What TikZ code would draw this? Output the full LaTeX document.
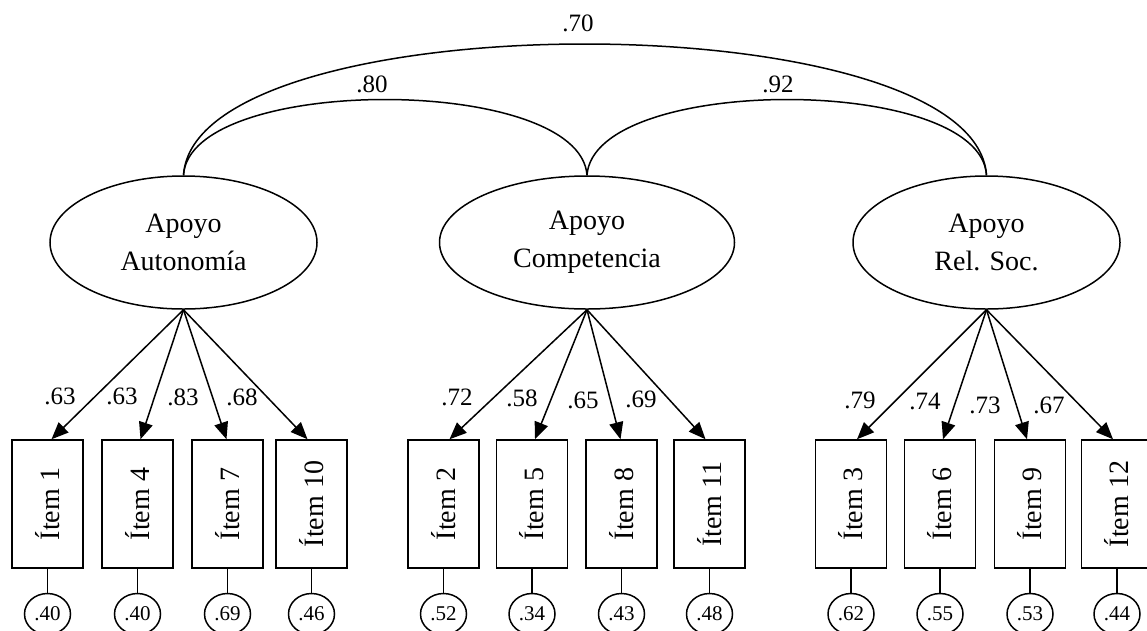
\documentclass[tikz,border=0pt]{standalone}
\usepackage{fontspec}
\setmainfont{Liberation Serif}
\usetikzlibrary{shapes.geometric,arrows.meta}
\begin{document}
\begin{tikzpicture}[x=1pt,y=-1pt,
  line width=1.5pt,
  factor/.style={draw,ellipse,inner sep=0pt,minimum height=133pt,align=center,font=\fontsize{28}{38}\selectfont},
  itembox/.style={draw,rectangle,minimum width=71pt,minimum height=128pt,inner sep=0pt,font=\fontsize{28}{34}\selectfont},
  err/.style={draw,ellipse,minimum width=46pt,minimum height=41pt,inner sep=0pt,font=\fontsize{21}{24}\selectfont},
  load/.style={-{Triangle[length=17pt,width=14pt]}},
  lab/.style={font=\fontsize{25}{30}\selectfont,inner sep=0pt},
]
\useasboundingbox (0,0) rectangle (1147,630);

% factors
\node[factor,minimum width=267pt] (A) at (183.5,242.5) {Apoyo\\Autonomía};
\node[factor,minimum width=295pt] (C) at (587,242.5) {Apoyo\\Competencia};
\node[factor,minimum width=267pt] (R) at (986.5,242.5) {Apoyo\\Rel. Soc.};

% correlations
\draw (A.north) .. controls +(6,-101) and +(-7,-101) .. (C.north);
\draw (C.north) .. controls +(7,-101) and +(-6,-101) .. (R.north);
\draw (A.north) .. controls +(11,-175) and +(-12,-175) .. (R.north);
\node[lab] (r1) at (578,23) {.70};
\node[lab] (r2) at (372,84) {.80};
\node[lab] (r3) at (778,84) {.92};

% items
\foreach \n/\x/\t in {1/47.5/1,4/137.5/4,7/227.5/7,10/311.5/10,
                      2/443.5/2,5/532/5,8/621.5/8,11/709.5/11,
                      3/851/3,6/940/6,9/1030/9,12/1117/12}{
  \node[itembox] (I\n) at (\x,504) {\rotatebox{90}{Ítem \t}};
}

% errors
\foreach \n/\v in {1/.40,4/.40,7/.69,10/.46,2/.52,5/.34,8/.43,11/.48,3/.62,6/.55,9/.53,12/.44}{
  \node[err,anchor=north] (E\n) at ([yshift=-24pt]I\n.south) {\v};
  \draw (I\n.south) -- (E\n.north);
}

% loadings
\draw[load] (A.south) -- ([xshift=4pt]I1.north);
\draw[load] (A.south) -- ([xshift=3pt]I4.north);
\draw[load] (A.south) -- ([xshift=-1pt]I7.north);
\draw[load] (A.south) -- ([xshift=-4pt]I10.north);
\draw[load] (C.south) -- ([xshift=6pt]I2.north);
\draw[load] (C.south) -- ([xshift=3pt]I5.north);
\draw[load] (C.south) -- ([xshift=-1pt]I8.north);
\draw[load] (C.south) -- ([xshift=-4pt]I11.north);
\draw[load] (R.south) -- ([xshift=6pt]I3.north);
\draw[load] (R.south) -- ([xshift=3pt]I6.north);
\draw[load] (R.south) -- ([xshift=-3pt]I9.north);
\draw[load] (R.south) -- ([xshift=-4pt]I12.north);

\node[lab] (l1) at (60,396) {.63};
\node[lab] (l4) at (122,396) {.63};
\node[lab] (l7) at (183,397) {.83};
\node[lab] (l10) at (242,397) {.68};
\node[lab] (l2) at (457,397) {.72};
\node[lab] (l5) at (522,398) {.58};
\node[lab] (l8) at (583,400) {.65};
\node[lab] (l11) at (641,399) {.69};
\node[lab] (l3) at (860,400) {.79};
\node[lab] (l6) at (925,401) {.74};
\node[lab] (l9) at (985,405) {.73};
\node[lab] (l12) at (1049,405) {.67};
\end{tikzpicture}
\end{document}
